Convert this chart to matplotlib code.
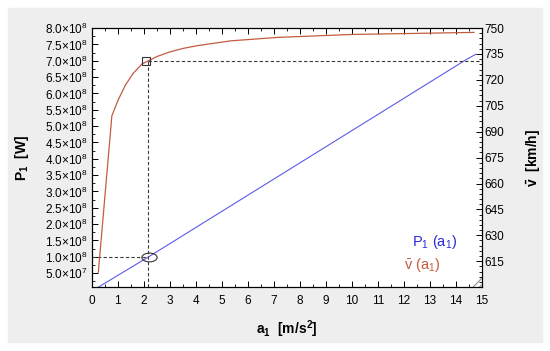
import matplotlib
matplotlib.use("Agg")
import matplotlib.pyplot as plt
import matplotlib.patches as mpatches
import matplotlib.path as mpath
from matplotlib.transforms import Affine2D
from matplotlib.ticker import MultipleLocator, FixedLocator, FuncFormatter
import numpy as np

plt.rcParams['font.family'] = ['Liberation Sans', 'DejaVu Sans']
plt.rcParams['mathtext.fontset'] = 'custom'
plt.rcParams['mathtext.rm'] = 'Liberation Sans'
plt.rcParams['mathtext.it'] = 'Liberation Sans'
plt.rcParams['mathtext.bf'] = 'Liberation Sans:bold'

a_v = [0.25, 0.77, 1.0, 1.29, 1.6, 1.93, 2.5, 2.96, 3.5, 4.05, 5.34, 7.14, 10.0, 14.7]
v_mean = [608.6, 699.2, 708.0, 717.0, 724.0, 729.2, 733.5, 736.0, 738.2, 739.8,
          742.6, 744.6, 746.3, 747.5]   # km/h

a_P = [0.25, 2.19, 14.37, 14.77]
P1 = [0.07e8, 1.0e8, 7.02e8, 7.2e8]   # W

a_mark = 2.15
P_mark = 1.0e8
v_mark = 731.0

P_ticks = np.arange(0.5e8, 8.01e8, 0.5e8)
v_ticks = [615, 630, 645, 660, 675, 690, 705, 720, 735, 750]

red = '#c25c3e'
blue = '#5b5bea'

fig = plt.figure(figsize=(5.5, 3.51), dpi=100)
fig.patches.append(mpatches.Rectangle((0.0145, 0.0256), 0.971, 0.952,
                                      transform=fig.transFigure, color='#eeeeee', zorder=-10))

ax = fig.add_axes([0.167, 0.182, 0.709, 0.738])
ax2 = ax.twinx()

ax.plot(a_P, P1, color=blue, lw=0.8)
ax2.plot(a_v, v_mean, color=red, lw=0.9)

# guide lines
dash = dict(ls='--', color='#3a3a3a', lw=0.8, dashes=(3, 2))
ax.plot([0, a_mark], [P_mark, P_mark], **dash)
ax2.plot([a_mark, a_mark], [600, v_mark], **dash)
ax2.plot([a_mark, 15], [v_mark, v_mark], **dash)
ax2.plot([a_mark - 0.05], [v_mark], marker='s', ms=6, mfc='none', mec='#333333', mew=0.8)
ell = mpath.Path.unit_circle().transformed(Affine2D().scale(1.75, 1.0))
ax.plot([a_mark + 0.04], [P_mark], marker=ell, ms=11, mfc='none', mec='#333333', mew=0.8)

ax.set_xlim(0, 15)
ax.set_ylim(0.07e8, 8.0e8)
ax2.set_ylim(600, 750)

ax.xaxis.set_major_locator(MultipleLocator(1))
ax.xaxis.set_minor_locator(MultipleLocator(0.5))
ax.yaxis.set_major_locator(FixedLocator(P_ticks))
ax.yaxis.set_minor_locator(FixedLocator(P_ticks - 0.25e8))
ax2.yaxis.set_major_locator(FixedLocator(v_ticks))
ax2.yaxis.set_minor_locator(MultipleLocator(3))


def sci(val, pos):
    e = int(np.floor(np.log10(val)))
    m = val / 10 ** e
    return r'$\mathregular{%.1f{\times}10^{%d}}$' % (m, e)


ax.yaxis.set_major_formatter(FuncFormatter(sci))

ax.tick_params(axis='both', which='both', direction='in', top=True, labelsize=8.5, pad=3)
ax.tick_params(which='major', length=4, width=0.7)
ax.tick_params(which='minor', length=2, width=0.6)
ax.tick_params(axis='x', pad=6)
ax2.tick_params(axis='y', which='both', direction='in', labelsize=8.5, pad=2)
ax2.tick_params(which='major', length=4, width=0.7)
ax2.tick_params(which='minor', length=2, width=0.6)
for a in (ax, ax2):
    for s in a.spines.values():
        s.set_linewidth(0.8)

ax.set_xlabel(r'$\mathbf{a_1}$  [m/s$^\mathbf{2}$]', fontsize=10, fontweight='bold', labelpad=8)
ax.set_ylabel(r'$\mathbf{P_1}$  [W]', fontsize=10, fontweight='bold', labelpad=10)
ax2.set_ylabel(r'$\mathbf{\bar{v}}$  [km/h]', fontsize=10, fontweight='bold', labelpad=15)

ax.text(0.938, 0.175, r'P$_1$ (a$_1$)', transform=ax.transAxes, color='#2a2ad8',
        fontsize=10.5, ha='right', va='center')
ax.text(0.895, 0.085, r'$\bar{\mathrm{v}}$ (a$_1$)', transform=ax.transAxes, color=red,
        fontsize=10.5, ha='right', va='center')

# little resize grip in the corner
ax.add_patch(mpatches.Polygon([(1.0, 0.0), (1.0, 0.04), (0.975, 0.0)], closed=True,
                              transform=ax.transAxes, facecolor='white', edgecolor='#999999',
                              hatch='/////', lw=0, clip_on=False))

fig.savefig('out.png', dpi=100)
